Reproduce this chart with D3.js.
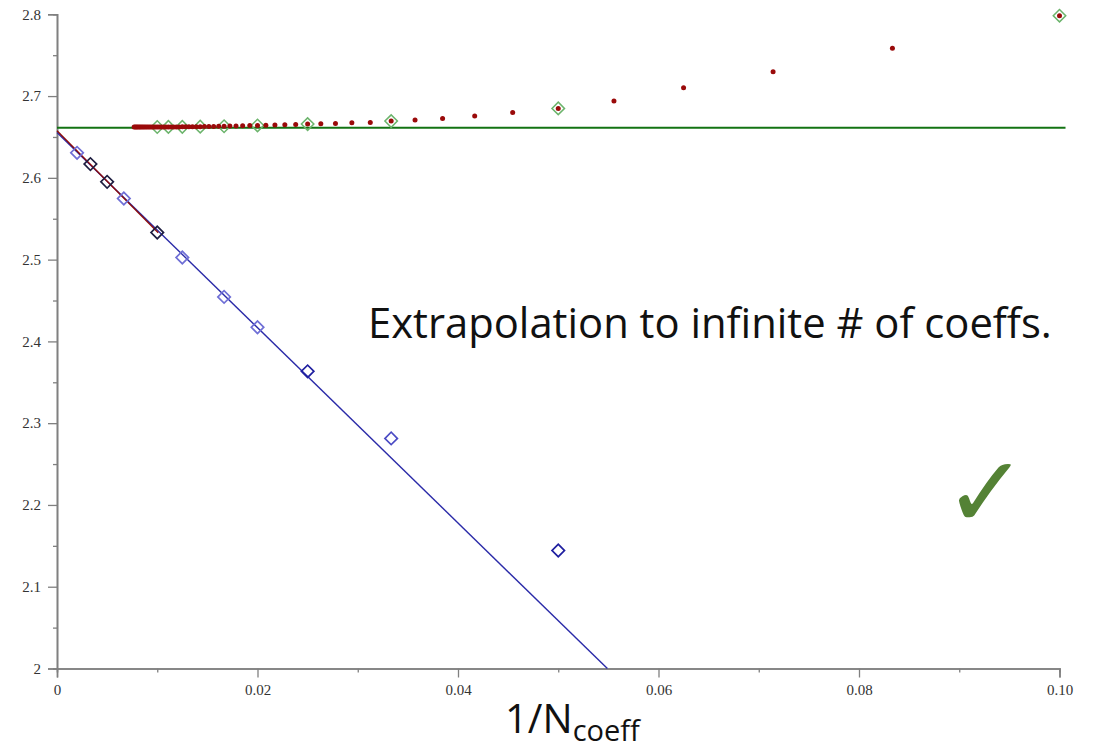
<!DOCTYPE html>
<html><head><meta charset="utf-8">
<script src="https://cdn.jsdelivr.net/npm/d3@7/dist/d3.min.js"></script>
<style>body{margin:0;background:#fff}</style>
</head><body>
<svg id="c" width="1102" height="752"></svg>
<script>
// ---- data ----
const redN = [10,12,14,16,18,20,22,24,26,28,30,32,34,36,38,40,42,44,46,48,50,52,54,56,58,60,62,64,66,68,70,72,74,76,78,80,82,84,86,88,90,92,94,96,98,100,102,104,106,108,110,112,114,116,118,120,122,124,126,128,130];
const redY = [2.7983,2.7584,2.7298,2.7102,2.6939,2.6849,2.6800,2.6755,2.6727,2.6706,2.6694,2.6678,2.6673,2.6666,2.6661,2.6657,2.6653,2.6649,2.6646,2.6643,2.6641,2.6639,2.6637,2.6635,2.6633,2.6631,2.6630,2.6629,2.6628,2.6627,2.6626,2.6626,2.6625,2.6625,2.6624,2.6624,2.6623,2.6623,2.6623,2.6623,2.6623,2.6622,2.6622,2.6622,2.6622,2.6622,2.6622,2.6622,2.6621,2.6621,2.6621,2.6621,2.6621,2.6621,2.6621,2.6621,2.6621,2.6621,2.6621,2.6621,2.6621];
const greenN = [10,20,30,40,50,60,70,80,90,100];
const blueN = [500,300,200,150,100,80,60,50,40,30,20];
const blueY = [2.6306,2.6168,2.5951,2.5748,2.5332,2.5026,2.4544,2.4173,2.3634,2.2814,2.1443];
const blueShade = ["light","black","black","light","black","light","light","light","dark","mid","dark"];
const blueFit = [[0,2.6556],[0.0549,2.0]];
const redFit = [[0,2.6575],[0.0101,2.5330]];
const limitY = 2.6612;
const limitSpan = [0,0.1006];
const yMajor = [2,2.1,2.2,2.3,2.4,2.5,2.6,2.7,2.8];
const yMinor = [2.05,2.15,2.25,2.35,2.45,2.55,2.65,2.75];
const xMajor = [0,0.02,0.04,0.06,0.08,0.10];
const xMajorLabels = ["0","0.02","0.04","0.06","0.08","0.10"];
const xMinor = [0.01,0.03,0.05,0.07,0.09];
const annotation = "Extrapolation to infinite # of coeffs.";

// ---- chart ----
const svg = d3.select("#c");
const x = d3.scaleLinear().domain([0,0.1]).range([57,1059.5]);
const y = d3.scaleLinear().domain([2,2.8]).range([668.5,14.3]);
const shadeColor = {light:"#6f6fd6", black:"#1e1e40", dark:"#1f1fa0", mid:"#4a4ac4"};

function styleAxis(g){
  g.select(".domain").attr("stroke","#808080").attr("stroke-width",1.6);
  g.selectAll(".tick line").attr("stroke","#808080").attr("stroke-width",1.3);
  g.selectAll(".tick text").attr("fill","#333").attr("font-family","'Liberation Serif', serif").attr("font-size",15);
}
svg.append("g").attr("transform",`translate(${x(0)},0)`)
  .call(d3.axisLeft(y).tickValues(yMinor).tickSize(4).tickFormat("")).call(styleAxis);
svg.append("g").attr("transform",`translate(${x(0)},0)`)
  .call(d3.axisLeft(y).tickValues(yMajor).tickSize(9).tickPadding(7).tickFormat(d=>d3.format("")(+d.toFixed(1)))).call(styleAxis);
svg.append("g").attr("transform",`translate(0,${y(2)})`)
  .call(d3.axisBottom(x).tickValues(xMinor).tickSize(4).tickFormat("")).call(styleAxis);
svg.append("g").attr("transform",`translate(0,${y(2)})`)
  .call(d3.axisBottom(x).tickValues(xMajor).tickSize(9).tickPadding(7).tickFormat((d,i)=>xMajorLabels[i])).call(styleAxis);

const line = d3.line().x(d=>x(d[0])).y(d=>y(d[1]));
svg.append("path").datum(limitSpan.map(v=>[v,limitY])).attr("d",line)
  .attr("stroke","#137313").attr("stroke-width",2).attr("fill","none");
svg.append("path").datum(blueFit).attr("d",line).attr("stroke","#2a2aa8").attr("stroke-width",1.4).attr("fill","none");
svg.append("path").datum(redFit).attr("d",line).attr("stroke","#8b0a0a").attr("stroke-width",1.4).attr("fill","none");

const diamond = d3.symbol().type(d3.symbolSquare).size(78);
svg.append("g").selectAll("path").data(blueN).join("path")
  .attr("d",diamond)
  .attr("transform",(d,i)=>`translate(${x(1/d)},${y(blueY[i])}) rotate(45)`)
  .attr("fill","none").attr("stroke",(d,i)=>shadeColor[blueShade[i]]).attr("stroke-width",1.7);
const redMap = new Map(redN.map((n,i)=>[n,redY[i]]));
svg.append("g").selectAll("path").data(greenN).join("path")
  .attr("d",diamond)
  .attr("transform",d=>`translate(${x(1/d)},${y(redMap.get(d))}) rotate(45)`)
  .attr("fill","none").attr("stroke","#6cb46c").attr("stroke-width",1.5);
svg.append("g").selectAll("circle").data(redN).join("circle")
  .attr("cx",d=>x(1/d)).attr("cy",(d,i)=>y(redY[i])).attr("r",2.5).attr("fill","#9a0a0a");

// annotation, fitted to the reference width
const ann = svg.append("text").attr("x",368).attr("y",338).attr("font-family","'Open Sans', Lato, sans-serif")
  .attr("font-size",38).attr("fill","#111").text(annotation);
const w = ann.node().getComputedTextLength();
ann.attr("font-size",38*684/w);

// check mark
svg.append("text").attr("x",944).attr("y",527).attr("font-family","'DejaVu Sans', sans-serif")
  .attr("font-size",100).attr("fill","#548235").attr("font-weight","bold").text("✓");

// x label
const xl = svg.append("text").attr("x",505).attr("y",733).attr("font-family","'Open Sans', Lato, sans-serif").attr("fill","#111");
xl.append("tspan").attr("font-size",40).text("1/N");
xl.append("tspan").attr("font-size",29).attr("dy",8).text("coeff");
</script>
</body></html>
